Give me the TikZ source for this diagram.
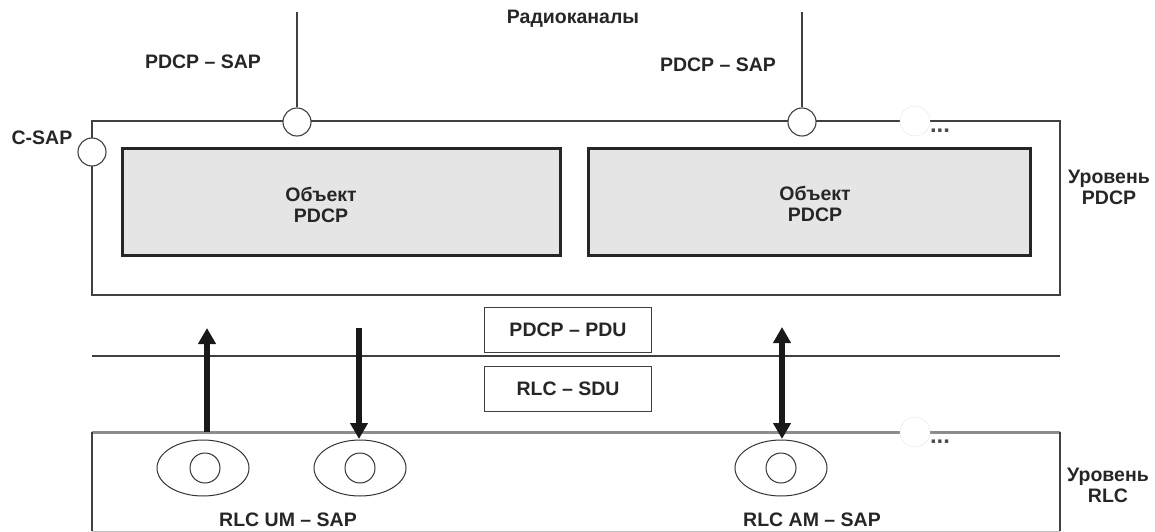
\documentclass[tikz,border=0pt]{standalone}
\usepackage{fontspec}
\setmainfont{Liberation Sans}
\usetikzlibrary{arrows.meta,shapes.geometric}
\begin{document}
\begin{tikzpicture}[x=1pt,y=-1pt,
  every node/.style={font=\fontsize{19.5}{21}\selectfont\bfseries, inner sep=0pt, text=black!85},
  layerbox/.style={draw=black!75, line width=1.4pt},
  obj/.style={draw=black!85, line width=3pt, fill=black!10},
  sap/.style={circle, draw=black!75, fill=white, line width=1.1pt, minimum size=28pt},
  ghost/.style={circle, draw=black!10, fill=white, minimum size=30pt},
  pdu/.style={draw=black!75, line width=1.2pt, fill=white, minimum width=167pt, minimum height=45pt},
  ell/.style={ellipse, draw=black!80, line width=1pt, minimum width=92pt, minimum height=56pt},
  innerc/.style={circle, draw=black!80, line width=1pt, minimum size=30pt},
  flow/.style={line width=6pt, draw=black!90},
  tipa/.style={-{Triangle[length=16pt,width=17pt]}},
  tipb/.style={{Triangle[length=16pt,width=17pt]}-{Triangle[length=16pt,width=17pt]}},
  dots/.style={font=\fontsize{24}{18}\selectfont\bfseries, text=black!70}]
\useasboundingbox (0,0) rectangle (1155,532);

% PDCP layer box
\coordinate (pTL) at (92,121);
\coordinate (pBR) at (1060,295);
\draw[layerbox] (pTL) rectangle (pBR);

% SAPs on top
\node[sap] (sapA) at (297,122) {};
\node[sap] (sapB) at (802,122) {};
\node[sap] (csap) at (92,152) {};
\coordinate (topA) at (297,12);
\coordinate (topB) at (802,12);
\draw[layerbox] (topA) -- (sapA.north);
\draw[layerbox] (topB) -- (sapB.north);
\node[ghost] (gh1) at (915,121) {};
\node[dots] (dots1) at (940,131) {...};

% labels top
\node (radio) at (573,19) {Радиоканалы};
\node (lA) at (203,62) {PDCP – SAP};
\node (lB) at (718,65) {PDCP – SAP};
\node (lC) at (42,138) {C-SAP};
\node[align=center] (lvlP) at (1109,187) {Уровень\\PDCP};

% PDCP entities
\node[obj, minimum width=438pt, minimum height=107pt] (objA) at (341,202) {};
\node[obj, minimum width=442pt, minimum height=107pt] (objB) at (809,202) {};
\node[align=center] (tA) at (321,205) {Объект\\PDCP};
\node[align=center] (tB) at (815,204) {Объект\\PDCP};

% middle
\coordinate (mL) at (92,356);
\coordinate (mR) at (1060,356);
\draw[layerbox] (mL) -- (mR);
\node[pdu] (pdu) at (568,330) {PDCP – PDU};
\node[pdu] (sdu) at (568,389) {RLC – SDU};

% RLC layer box
\coordinate (rTL) at (92,432);
\coordinate (rTR) at (1060,432);
\coordinate (rBL) at (92,531);
\coordinate (rBR) at (1060,531);
\draw[black!45, line width=3pt] (rTL) -- (rTR);
\draw[layerbox] (rTL) -- (rBL);
\draw[layerbox] (rTR) -- (rBR);
\draw[black!25, line width=1pt] (rBL) -- (rBR);
\node[ghost] (gh2) at (915,432) {};
\node[dots] (dots2) at (940,442) {...};

% RLC SAPs
\node[ell] (e1) at (203,468) {};
\node[innerc] (c1) at (205,468) {};
\node[ell] (e2) at (360,468) {};
\node[innerc] (c2) at (360,468) {};
\node[ell] (e3) at (781,468) {};
\node[innerc] (c3) at (781,468) {};

% flows
\coordinate (u1a) at (207,432);
\coordinate (u1b) at (207,328);
\coordinate (d2a) at (359,328);
\coordinate (d2b) at (359,439);
\coordinate (b3a) at (782,327);
\coordinate (b3b) at (782,439);
\draw[flow, tipa] (u1a) -- (u1b);
\draw[flow, tipa] (d2a) -- (d2b);
\draw[flow, tipb] (b3a) -- (b3b);

% labels bottom
\node (lum) at (288,520) {RLC UM – SAP};
\node (lam) at (812,520) {RLC AM – SAP};
\node[align=center] (lvlR) at (1108,485) {Уровень\\RLC};
\end{tikzpicture}
\end{document}
